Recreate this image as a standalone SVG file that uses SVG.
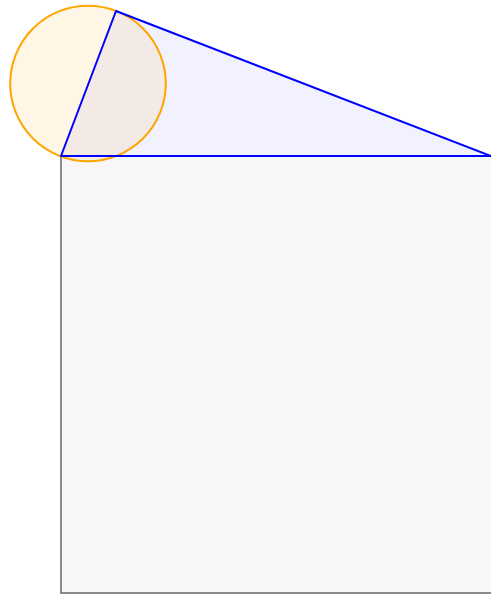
<svg xmlns="http://www.w3.org/2000/svg" width="491" height="594" viewBox="0 0 491 594">
<style>
.sq{fill:#f7f7f7;stroke:#666666;stroke-width:1.5}
.tri{fill:#0000ff;fill-opacity:0.05}
.triline{fill:none;stroke:#0000ff;stroke-width:2;stroke-linejoin:round}
.circ{fill:#ffa500;fill-opacity:0.1;stroke:#ffa500;stroke-width:2}
</style>
<rect width="491" height="594" fill="#ffffff"/>
<g id="square"><rect class="sq" x="61" y="156" width="440" height="437"/></g>
<g id="triangle-fill"><polygon class="tri" points="61,156 116,11 491,156"/></g>
<g id="circle"><circle class="circ" cx="88" cy="83.5" r="77.8"/></g>
<g id="triangle"><polygon class="triline" points="61,156 116,11 491,156"/></g>
</svg>
